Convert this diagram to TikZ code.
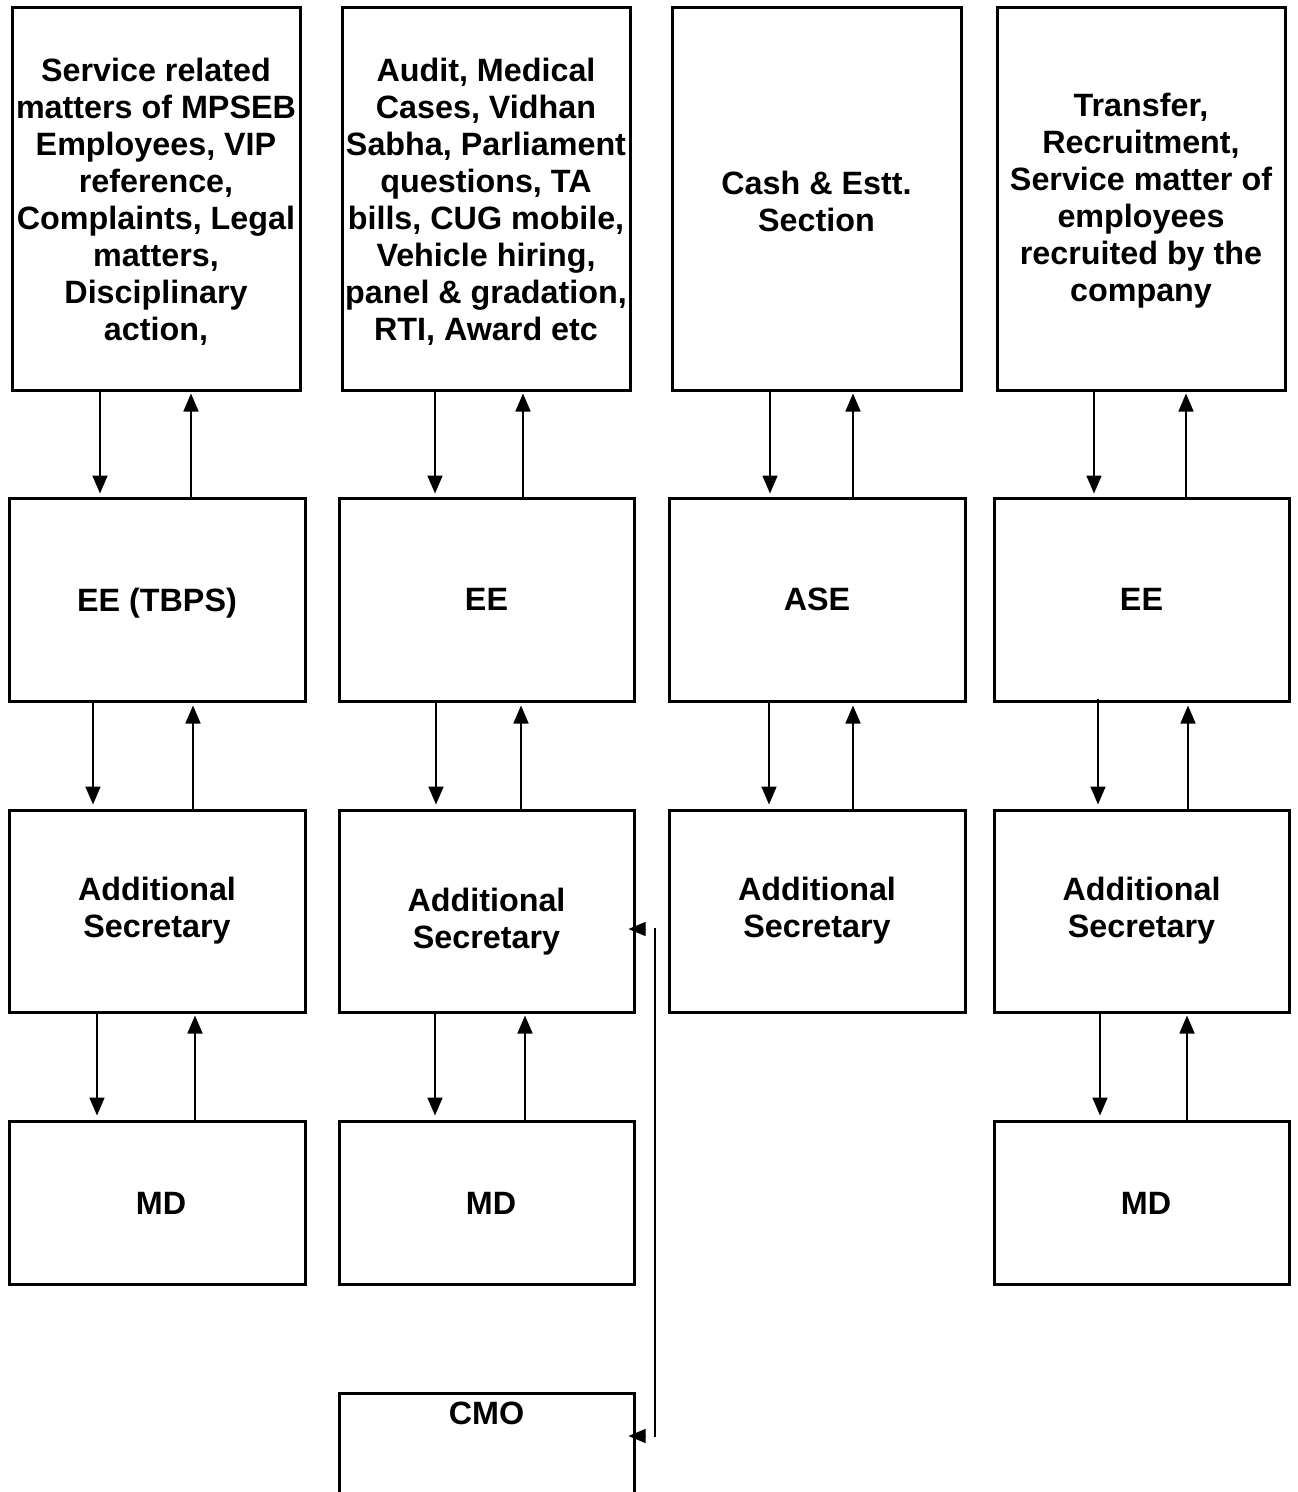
\documentclass[tikz,border=0pt]{standalone}
\usepackage{fontspec}
\setmainfont{Liberation Sans}
\usetikzlibrary{arrows.meta}
\tikzset{
  txt/.style={font=\fontsize{32.3}{37}\selectfont\bfseries, align=center},
  box/.style={draw, line width=3pt, inner sep=0pt, txt},
  arr/.style={line width=1.7pt, -{Triangle[length=18pt,width=15pt]}},
  smallarr/.style={line width=1pt, -{Triangle[length=17pt,width=14pt]}},
  thinline/.style={line width=1.7pt},
}
\begin{document}
\begin{tikzpicture}[x=1pt,y=-1pt]
\useasboundingbox (0,0) rectangle (1298,1492);
\clip (0,0) rectangle (1298,1492);
% row 1
\node[box, minimum width=288, minimum height=383] (a1) at (156,198.5) {};
\node[txt] (a1t) at (156,201.5)
  {Service related\\matters of MPSEB\\Employees, VIP\\reference,\\Complaints, Legal\\matters,\\Disciplinary\\action,};
\node[box, minimum width=288, minimum height=383] (a2) at (486,198.5) {};
\node[txt] (a2t) at (486,201.5)
  {Audit, Medical\\Cases, Vidhan\\Sabha, Parliament\\questions, TA\\bills, CUG mobile,\\Vehicle hiring,\\panel \& gradation,\\RTI, Award etc};
\node[box, minimum width=289, minimum height=383] (a3) at (816.5,198.5) {};
\node[txt] (a3t) at (816.5,201) {Cash \& Estt.\\Section};
\node[box, minimum width=288, minimum height=383] (a4) at (1141,198.5) {};
\node[txt] (a4t) at (1141,201)
  {Transfer,\\Recruitment,\\Service matter of\\employees\\recruited by the\\company};
% row 2
\node[box, minimum width=296, minimum height=203, text depth=0pt] (b1) at (157,599.5) {EE (TBPS)};
\node[box, minimum width=295, minimum height=203] (b2) at (486.5,599.5) {EE};
\node[box, minimum width=296, minimum height=203] (b3) at (817,599.5) {ASE};
\node[box, minimum width=295, minimum height=203] (b4) at (1141.5,599.5) {EE};
% row 3
\node[box, minimum width=296, minimum height=202] (c1) at (157,911) {Additional\\Secretary};
\node[box, minimum width=295, minimum height=202] (c2) at (486.5,911) {};
\node[txt] (c2t) at (486.5,922) {Additional\\Secretary};
\node[box, minimum width=296, minimum height=202] (c3) at (817,911) {Additional\\Secretary};
\node[box, minimum width=295, minimum height=202] (c4) at (1141.5,911) {Additional\\Secretary};
% row 4
\node[box, minimum width=296, minimum height=163] (d1) at (157,1202.5) {};
\node[txt] (d1t) at (161,1203) {MD};
\node[box, minimum width=295, minimum height=163] (d2) at (486.5,1202.5) {};
\node[txt] (d2t) at (491,1203) {MD};
\node[box, minimum width=295, minimum height=163] (d4) at (1141.5,1202.5) {};
\node[txt] (d4t) at (1146,1203) {MD};
% CMO
\node[box, minimum width=295, minimum height=200] (e2) at (486.5,1493) {};
\node[txt] (e2t) at (486.5,1413) {CMO};
% arrows column 1
\draw[arr] (a1.south -| 100,0) -- ([yshift=3]b1.north -| 100,0);
\draw[arr] (b1.north -| 191,0) -- ([yshift=-2]a1.south -| 191,0);
\draw[arr] (b1.south -| 93,0) -- ([yshift=4]c1.north -| 93,0);
\draw[arr] (c1.north -| 193,0) -- ([yshift=-3]b1.south -| 193,0);
\draw[arr] (c1.south -| 97,0) -- ([yshift=4]d1.north -| 97,0);
\draw[arr] ([yshift=-2]d1.north -| 195,0) -- ([yshift=-2]c1.south -| 195,0);
% arrows column 2
\draw[arr] (a2.south -| 435,0) -- ([yshift=3]b2.north -| 435,0);
\draw[arr] (b2.north -| 523,0) -- ([yshift=-2]a2.south -| 523,0);
\draw[arr] (b2.south -| 436,0) -- ([yshift=4]c2.north -| 436,0);
\draw[arr] (c2.north -| 521,0) -- ([yshift=-3]b2.south -| 521,0);
\draw[arr] (c2.south -| 435,0) -- ([yshift=4]d2.north -| 435,0);
\draw[arr] (d2.north -| 525,0) -- ([yshift=-2]c2.south -| 525,0);
% arrows column 3
\draw[arr] (a3.south -| 770,0) -- ([yshift=3]b3.north -| 770,0);
\draw[arr] (b3.north -| 853,0) -- ([yshift=-2]a3.south -| 853,0);
\draw[arr] (b3.south -| 769,0) -- ([yshift=4]c3.north -| 769,0);
\draw[arr] (c3.north -| 853,0) -- ([yshift=-3]b3.south -| 853,0);
% arrows column 4
\draw[arr] (a4.south -| 1094,0) -- ([yshift=3]b4.north -| 1094,0);
\draw[arr] (b4.north -| 1186,0) -- ([yshift=-2]a4.south -| 1186,0);
\draw[arr] ([yshift=4]b4.south -| 1098,0) -- ([yshift=4]c4.north -| 1098,0);
\draw[arr] (c4.north -| 1188,0) -- ([yshift=-3]b4.south -| 1188,0);
\draw[arr] (c4.south -| 1100,0) -- ([yshift=4]d4.north -| 1100,0);
\draw[arr] (d4.north -| 1187,0) -- ([yshift=-2]c4.south -| 1187,0);
% CMO link
\coordinate (j1) at (655,928);
\coordinate (j2) at (655,1437);
\draw[thinline] (j1) -- (j2);
\draw[smallarr] (646,929) -- ([xshift=-7]c2.east |- 0,929);
\draw[smallarr] (646,1436) -- ([xshift=-7]e2.east |- 0,1436);
\end{tikzpicture}
\end{document}
